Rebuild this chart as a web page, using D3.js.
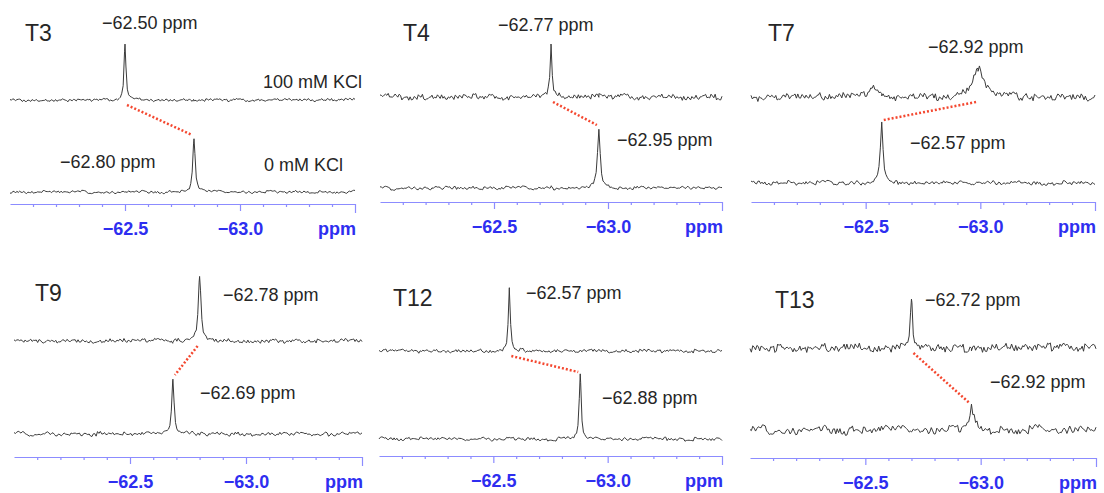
<!DOCTYPE html>
<meta charset="utf-8">
<style>
body { margin: 0; background: #fff; }
svg text { font-family: "Liberation Sans", Arial, sans-serif; }
.trace { fill: none; stroke: #3a3a3a; stroke-width: 1; stroke-linejoin: round; }
.link { stroke: #f4472f; stroke-width: 2.5; stroke-dasharray: 2,2; }
.axis path, .axis line { stroke: #8c8cff; stroke-width: 1.2; }
.axis text { fill: #2e2ef0; font-weight: bold; font-size: 18px; font-family: "Liberation Sans", Arial, sans-serif; }
.lbl { fill: #262626; font-size: 18px; }
.tag { fill: #262626; font-size: 23px; }
</style>
<body>
<script src="https://d3js.org/d3.v7.min.js"></script>
<script>
var width = 1104, height = 493;

// sample names
var samples = ["T3", "T4", "T7", "T9", "T12", "T13"];

// peak positions (ppm): upper trace = 100 mM KCl, lower = 0 mM KCl
var shiftHigh = [-62.50, -62.75, -62.99, -62.80, -62.57, -62.70];
var shiftLow  = [-62.80, -62.96, -62.57, -62.685, -62.88, -62.96];

// printed peak labels
var labelHigh = ["\u221262.50 ppm", "\u221262.77 ppm", "\u221262.92 ppm", "\u221262.78 ppm", "\u221262.57 ppm", "\u221262.72 ppm"];
var labelLow  = ["\u221262.80 ppm", "\u221262.95 ppm", "\u221262.57 ppm", "\u221262.69 ppm", "\u221262.88 ppm", "\u221262.92 ppm"];

// intensities (a.u.)
var heightHigh = [55, 52, 30, 66, 63, 48];
var heightLow  = [54, 60, 60, 56, 64, 24];
// line widths (ppm, fwhm)
var widthHigh = [0.010, 0.010, 0.05, 0.014, 0.010, 0.012];
var widthLow  = [0.012, 0.014, 0.014, 0.012, 0.010, 0.022];
// vertical offset of each trace (a.u.)
var offsetHigh = [104, 105, 105, 116, 105, 110];
var offsetLow  = [12, 14, 19, 23, 17, 28];
// noise level (a.u.)
var noiseHigh = [2, 4, 5, 3, 2.5, 6];
var noiseLow  = [2, 2.5, 3, 3, 2.5, 6];
// small extra bump on the T7 upper trace
var bumpShift = -62.53, bumpHeight = 10, bumpWidth = 0.03;

// baseline noise texture (read as typical jitter of the traces)
var noise = [0.3,-0.6,0.9,-0.2,-0.8,0.5,0.1,-0.4,0.7,-0.9,0.2,0.6,-0.3,-0.7,0.8,0.0,-0.5,0.4,-0.1,0.9,
  -0.6,0.3,-0.8,0.5,0.2,-0.4,0.6,-0.2,-0.9,0.7,0.1,-0.3,0.8,-0.6,0.4,-0.1,-0.7,0.5,0.3,-0.5,
  0.9,-0.8,0.2,0.0,-0.4,0.6,-0.9,0.7,-0.2,0.3,-0.6,0.8,0.1,-0.5,0.4,-0.3,0.6,-0.7,0.2,0.9,
  -0.4,-0.1,0.5,-0.8,0.3,0.7,-0.6,0.0,0.4,-0.9,0.6,-0.2,0.8,-0.5,0.1,-0.3,0.7,-0.7,0.5,0.2,
  -0.6,0.9,-0.4,0.3,-0.8,0.1,0.6,-0.2,-0.5,0.8,-0.1,0.4,-0.9,0.2,0.7,-0.3,0.5,-0.6,0.0,0.9,-0.7];

// axis ticks (ppm)
var minorTicks = [-62.1, -62.2, -62.3, -62.4, -62.6, -62.7, -62.8, -62.9, -63.1, -63.2, -63.3, -63.4];
var majorTicks = [-62.5, -63.0];
var endTick = [-63.5];
var ppmDomain = [-62.0, -63.5];

// layout of the 6 panels (pixels)
var panels = [
  {x0: 10,  x1: 355,  axisY: 204},
  {x0: 380, x1: 722,  axisY: 202},
  {x0: 751, x1: 1095, axisY: 202},
  {x0: 14,  x1: 362,  axisY: 457},
  {x0: 379, x1: 722,  axisY: 456},
  {x0: 750, x1: 1096, axisY: 458}
];
// text placements (left x, centre y)
var tagPos  = [[25,33],[403,33],[768,33],[35,293],[393,298],[775,300]];
var highPos = [[102,23],[498,25],[928,47],[223,295],[526,293],[925,300]];
var lowPos  = [[60,162],[617,140],[910,143],[200,393],[602,398],[990,382]];

var svg = d3.select("body").append("svg")
    .attr("width", width)
    .attr("height", height);

function lor(p, c, h, w) {
  var t = (p - c) / (w / 2);
  return h / (1 + t * t);
}

var grid = d3.range(0, 251).map(function(i) { return -62.0 - i * 0.006; });

samples.forEach(function(name, k) {
  var P = panels[k];
  var x = d3.scaleLinear().domain(ppmDomain).range([P.x0, P.x1]);
  var y = d3.scaleLinear().domain([0, 100]).range([P.axisY, P.axisY - 100]);
  var g = svg.append("g");

  var pts = grid.concat([shiftHigh[k], shiftLow[k]]).sort(function(a, b) { return b - a; });
  var n = noise.length;

  var high = pts.map(function(p, i) {
    var v = offsetHigh[k] + lor(p, shiftHigh[k], heightHigh[k], widthHigh[k])
      + noiseHigh[k] * (0.6 * noise[(i * 7 + k * 17) % n] + 0.4 * noise[(Math.floor(i / 4) * 11 + k * 29) % n]);
    if (k === 2) v += lor(p, bumpShift, bumpHeight, bumpWidth);
    return [p, v];
  });
  var low = pts.map(function(p, i) {
    var v = offsetLow[k] + lor(p, shiftLow[k], heightLow[k], widthLow[k])
      + noiseLow[k] * (0.6 * noise[(i * 13 + k * 31 + 50) % n] + 0.4 * noise[(Math.floor(i / 4) * 5 + k * 11 + 7) % n]);
    return [p, v];
  });

  var line = d3.line()
      .x(function(d) { return x(d[0]); })
      .y(function(d) { return y(d[1]); });

  g.append("path").datum(high).attr("class", "trace").attr("d", line);
  g.append("path").datum(low).attr("class", "trace").attr("d", line);

  // dotted connector between the two peaks
  var dir = shiftLow[k] < shiftHigh[k] ? 1 : -1;
  g.append("line").attr("class", "link")
      .attr("x1", x(shiftHigh[k]) + 2 * dir)
      .attr("y1", y(offsetHigh[k]) + 5)
      .attr("x2", x(shiftLow[k]) - 2 * dir)
      .attr("y2", y(offsetLow[k] + heightLow[k]) - 3);

  // axis
  var ax = g.append("g").attr("class", "axis").attr("transform", "translate(0," + P.axisY + ")");
  ax.append("g").call(d3.axisBottom(x).tickValues(minorTicks).tickSize(3).tickSizeOuter(0).tickFormat(""));
  var maj = ax.append("g").call(d3.axisBottom(x).tickValues(majorTicks).tickSize(7).tickPadding(11)
      .tickFormat(function(d) { return d.toFixed(1).replace("-", "\u2212"); }));
  maj.select(".domain").remove();
  var en = ax.append("g").call(d3.axisBottom(x).tickValues(endTick).tickSize(9).tickFormat(""));
  en.select(".domain").remove();
  ax.append("text")
      .attr("x", P.x1 + 1)
      .attr("y", 31)
      .attr("text-anchor", "end")
      .text("ppm");

  // texts
  g.append("text").attr("class", "tag")
      .attr("x", tagPos[k][0]).attr("y", tagPos[k][1]).attr("dy", "0.36em").text(name);
  g.append("text").attr("class", "lbl")
      .attr("x", highPos[k][0]).attr("y", highPos[k][1]).attr("dy", "0.36em").text(labelHigh[k]);
  g.append("text").attr("class", "lbl")
      .attr("x", lowPos[k][0]).attr("y", lowPos[k][1]).attr("dy", "0.36em").text(labelLow[k]);
});

// salt labels (first panel only)
svg.append("text").attr("class", "lbl").attr("x", 362).attr("y", 82).attr("dy", "0.36em")
    .attr("text-anchor", "end").text("100 mM KCl");
svg.append("text").attr("class", "lbl").attr("x", 343).attr("y", 165).attr("dy", "0.36em")
    .attr("text-anchor", "end").text("0 mM KCl");
</script>
</body>
